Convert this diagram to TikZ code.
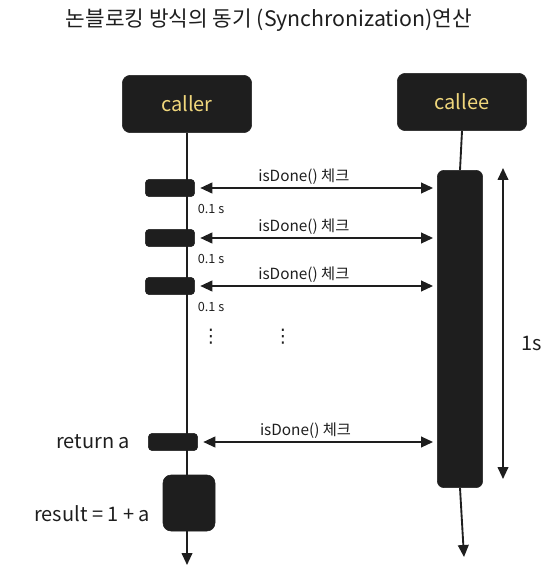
\documentclass[tikz,border=0pt]{standalone}
\usepackage{fontspec}
\setmainfont{Noto Sans CJK KR}
\newfontfamily\symfont{DejaVu Sans}
\usetikzlibrary{arrows.meta, positioning, backgrounds}
\definecolor{ink}{HTML}{1E1E1E}
\definecolor{namecol}{HTML}{F0D77C}
\tikzset{
    tip/.style={-{Triangle[width=8pt,length=9pt]}},
    bothtips/.style={{Triangle[width=8pt,length=9pt]}-{Triangle[width=8pt,length=9pt]}},
    actor/.style={fill=ink, draw=ink, rounded corners=6pt, minimum width=97pt,
        minimum height=43pt, text=namecol, font=\fontsize{15}{17}\selectfont},
    bar/.style={fill=ink, draw=ink, rounded corners=3pt, minimum width=37pt,
        minimum height=13pt, inner sep=0pt},
    life/.style={draw=ink, line width=1.4pt},
    msg/.style={draw=ink, line width=1.4pt, bothtips, shorten <=4pt, shorten >=3pt},
    lbl/.style={text=ink, font=\fontsize{11.5}{13}\selectfont, inner sep=1pt},
    note/.style={text=ink, font=\fontsize{15}{17}\selectfont}
}
\begin{document}
\begin{tikzpicture}[x=0.75pt, y=-0.75pt]
    \useasboundingbox (0,0) rectangle (550,573);
    \node[text=ink, font=\fontsize{16}{18}\selectfont] (title) at (269,20)
        {논블로킹 방식의 동기 (Synchronization)연산};
    % lifeline heads
    \node[actor] (caller) at (187,104) {caller};
    \node[actor] (callee) at (462,102) {callee};
    % callee works for 1s
    \node[bar, minimum width=34pt, minimum height=238pt, rounded corners=5pt] (act) at (460,329) {};
    % caller checks
    \node[bar] (b1) at (170,188) {};
    \node[bar] (b2) at (170,238) {};
    \node[bar] (b3) at (170,286) {};
    \node[bar] (b4) at (173,442) {};
    \node[bar, minimum width=39pt, minimum height=42pt, rounded corners=6pt] (work) at (189,503) {};
    \coordinate (cend) at (187,565);
    \coordinate (eend) at (464,557);
    \begin{scope}[on background layer]
        \draw[life, tip] (caller.south) -- (cend);
        \draw[life] (callee.south) -- (act.north);
    \end{scope}
    \draw[life, tip] (act.south) -- (eend);
    \foreach \b in {b1,b2,b3,b4}
        \draw[msg] (\b.east) -- (\b.east -| act.west)
            node[lbl, above=1pt, pos=0.45] {isDone() 체크};
    \foreach \b/\n in {b1/g1,b2/g2,b3/g3}
        \node[lbl, font=\fontsize{9.5}{11}\selectfont, anchor=north west] (\n)
            at ([xshift=1pt, yshift=-4pt]\b.south east) {0.1 s};
    \node[text=ink, font=\symfont\fontsize{14}{16}\selectfont] (d1) at (211,337) {⋮};
    \node[text=ink, font=\symfont\fontsize{14}{16}\selectfont] (d2) at (283,337) {⋮};
    % duration
    \coordinate (s1) at (503,168);
    \coordinate (s2) at (503,479);
    \draw[life, bothtips] (s1) -- (s2);
    \node[note] (dur) at (532,343) {1s};
    \node[note, left=10pt of b4] (ret) {return a};
    \node[note, left=6pt of work, yshift=-8pt] (res) {result = 1 + a};
\end{tikzpicture}
\end{document}
